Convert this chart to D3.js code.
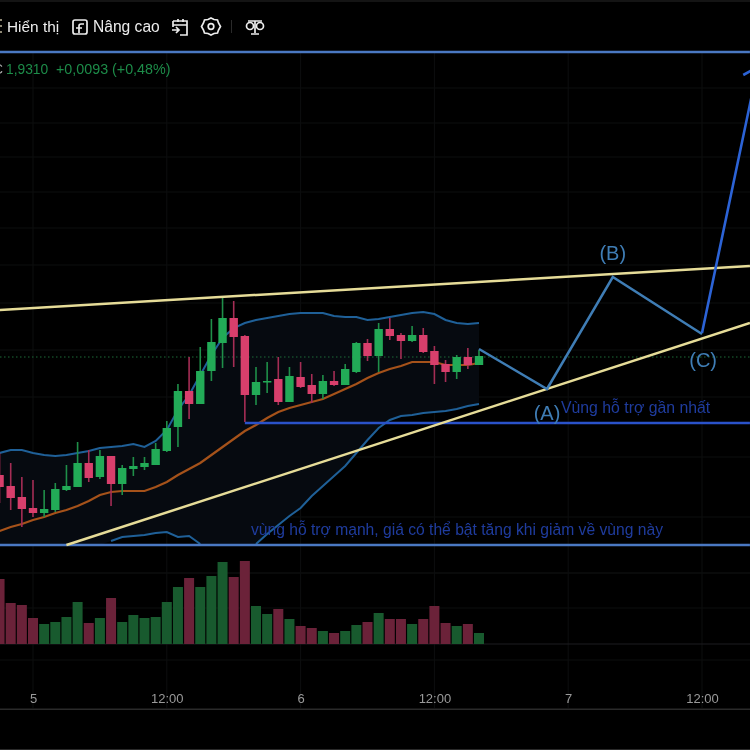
<!DOCTYPE html>
<html>
<head>
<meta charset="utf-8">
<script src="https://cdnjs.cloudflare.com/ajax/libs/d3/7.8.5/d3.min.js"></script>
<style>
html,body{margin:0;padding:0;background:#000;overflow:hidden}
svg{display:block;filter:blur(0.55px)}
text{font-family:"Liberation Sans",Arial,sans-serif}
</style>
</head>
<body>
<script>
// hours counted from the start of day 5, first candle is at -3
var firstHour = -3;
var opens = [1.813,1.802,1.791,1.780,1.775,1.778,1.798,1.801,1.825,1.811,1.832,1.804,1.819,1.821,1.823,1.837,1.861,1.897,1.884,1.917,1.945,1.970,1.952,1.893,1.906,1.909,1.886,1.911,1.903,1.894,1.907,1.903,1.916,1.945,1.932,1.959,1.953,1.947,1.953,1.937,1.924,1.916,1.931,1.923];
var highs = [1.835,1.825,1.811,1.808,1.798,1.805,1.823,1.846,1.838,1.838,1.832,1.823,1.831,1.831,1.845,1.867,1.904,1.931,1.941,1.969,1.990,1.987,1.953,1.921,1.926,1.931,1.921,1.926,1.914,1.913,1.917,1.924,1.946,1.949,1.965,1.970,1.955,1.962,1.960,1.942,1.928,1.933,1.940,1.938];
var lows = [1.785,1.778,1.761,1.771,1.771,1.776,1.797,1.801,1.806,1.809,1.782,1.793,1.812,1.818,1.823,1.836,1.841,1.869,1.884,1.907,1.920,1.921,1.866,1.883,1.895,1.883,1.886,1.900,1.885,1.889,1.902,1.903,1.915,1.927,1.916,1.948,1.929,1.946,1.935,1.904,1.906,1.909,1.919,1.923];
var closes = [1.801,1.790,1.779,1.775,1.779,1.799,1.802,1.825,1.810,1.832,1.804,1.820,1.822,1.825,1.839,1.860,1.897,1.884,1.917,1.946,1.970,1.951,1.893,1.906,1.907,1.886,1.912,1.901,1.894,1.907,1.903,1.919,1.945,1.932,1.959,1.952,1.947,1.953,1.936,1.923,1.916,1.931,1.923,1.932];
var volumes = [650,410,390,260,200,220,270,420,210,260,460,220,290,260,270,420,570,660,570,680,820,670,830,380,300,350,250,180,160,130,110,130,190,220,310,250,250,200,250,380,210,180,200,110];

var upperBand = [1.835,1.838,1.838,1.835,1.833,1.832,1.833,1.835,1.837,1.840,1.841,1.842,1.844,1.841,1.847,1.858,1.878,1.893,1.913,1.933,1.950,1.960,1.965,1.968,1.970,1.972,1.974,1.975,1.975,1.975,1.972,1.971,1.971,1.968,1.969,1.971,1.973,1.975,1.976,1.974,1.968,1.965,1.964,1.965];
var middleBand = [1.757,1.761,1.764,1.768,1.771,1.775,1.778,1.782,1.787,1.793,1.796,1.797,1.797,1.797,1.801,1.806,1.813,1.819,1.825,1.833,1.841,1.849,1.857,1.863,1.870,1.876,1.880,1.883,1.886,1.889,1.894,1.899,1.904,1.910,1.915,1.919,1.922,1.926,1.926,1.926,1.923,1.923,1.923,1.925];
// null where the band is below the bottom of the price pane
var lowerBand = [null,null,null,null,null,null,null,null,null,null,1.747,1.751,1.752,1.753,1.755,1.756,1.751,1.752,1.744,null,null,null,null,1.744,1.754,1.763,1.772,1.780,1.792,1.802,1.812,1.822,1.835,1.848,1.860,1.868,1.872,1.873,1.875,1.876,1.877,1.879,1.882,1.884];

var gridPrices = [2.200,2.165,2.131,2.096,2.060,2.023,1.985,1.938,1.891,1.831,1.771,1.715];
var gridVolumes = [710,360];
var timeTicks = [0,12,24,36,48,60];
var timeLabels = ['5','12:00','6','12:00','7','12:00'];

var lastPrice = 1.931;
var rightHour = 64.3;
var paneTop = 2.236;
var paneBottom = 1.743;
var supportPrice = 1.865;
var upperTrendHours = [-3,rightHour];
var upperTrendPrices = [1.978,2.022];
var lowerTrendHours = [3,rightHour];
var lowerTrendPrices = [1.743,1.965];
var waveHours = [40,46.1,52,60];
var wavePrices = [1.939,1.899,2.011,1.954];
var targetHours = [60,65,63.7];
var targetPrices = [1.955,2.221,2.213];
var waveLabels = ['(A)','(B)','(C)'];
var waveLabelHours = [46.1,52,60.1];
var waveLabelPrices = [1.873,2.033,1.926];
var nearSupportText = 'Vùng hỗ trợ gần nhất';
var strongSupportText = 'vùng hỗ trợ mạnh, giá có thể bật tăng khi giảm về vùng này';

var svgWidth = 750;
var svgHeight = 750;
var green = '#22ab57';
var red = '#d83f6c';

var svg = d3.select('body').append('svg')
	.attr('width',svgWidth)
	.attr('height',svgHeight)
	.style('background','#000')

var x = d3.scaleLinear().domain([0,60]).range([33,702]);
var y = d3.scaleLinear().domain([2.288,1.538]).range([0,750]);
var yVol = d3.scaleLinear().domain([0,1000]).range([644,544]);

var hours = opens.map(function(d,i){return firstHour+i});
var isUp = function(i){return closes[i]>=opens[i]};

// frame lines
svg.append('rect').attr('x',0).attr('y',0).attr('width',750).attr('height',2).attr('fill','#141414');
svg.append('rect').attr('x',0).attr('y',708.5).attr('width',750).attr('height',1.5).attr('fill','#2a2a2a');
svg.append('rect').attr('x',0).attr('y',749).attr('width',750).attr('height',1).attr('fill','#2a2a2a');

// grid
var gridColor = '#0d0e0f';
svg.selectAll('.gridY').data(gridPrices).enter().append('line')
	.attr('x1',0).attr('x2',750)
	.attr('y1',function(d){return y(d)}).attr('y2',function(d){return y(d)})
	.attr('stroke',gridColor);
svg.selectAll('.gridV').data(gridVolumes).enter().append('line')
	.attr('x1',0).attr('x2',750)
	.attr('y1',function(d){return yVol(d)}).attr('y2',function(d){return yVol(d)})
	.attr('stroke',gridColor);
svg.selectAll('.gridX').data(timeTicks).enter().append('line')
	.attr('x1',function(d){return x(d)}).attr('x2',function(d){return x(d)})
	.attr('y1',52).attr('y2',708)
	.attr('stroke',gridColor);
svg.append('line').attr('x1',0).attr('x2',750).attr('y1',644).attr('y2',644).attr('stroke','#1c1c20');
svg.append('line').attr('x1',0).attr('x2',750).attr('y1',660).attr('y2',660).attr('stroke',gridColor);

// band fill and lines
var bandArea = d3.area()
	.x(function(d){return x(hours[d])})
	.y0(function(d){return y(lowerBand[d]===null?paneBottom:lowerBand[d])})
	.y1(function(d){return y(upperBand[d])});
svg.append('path').attr('d',bandArea(d3.range(hours.length))).attr('fill','#060a10');

var bandLine = function(values){
	return d3.line()
		.defined(function(d){return values[d]!==null})
		.x(function(d){return x(hours[d])})
		.y(function(d){return y(values[d])})(d3.range(hours.length));
}
svg.append('path').attr('d',bandLine(upperBand)).attr('fill','none').attr('stroke','#1f6098').attr('stroke-width',2);
svg.append('path').attr('d',bandLine(lowerBand)).attr('fill','none').attr('stroke','#1f6098').attr('stroke-width',2);
svg.append('path').attr('d',bandLine(middleBand)).attr('fill','none').attr('stroke','#a5521a').attr('stroke-width',2.2);

// last price
svg.append('line')
	.attr('x1',0).attr('x2',750)
	.attr('y1',y(lastPrice)).attr('y2',y(lastPrice))
	.attr('stroke','#1d6b38').attr('stroke-width',1.2).attr('stroke-dasharray','1.5 2.5');

// volume
svg.selectAll('.vol').data(volumes).enter().append('rect')
	.attr('x',function(d,i){return x(hours[i])-5})
	.attr('y',function(d){return yVol(d)})
	.attr('width',10)
	.attr('height',function(d){return yVol(0)-yVol(d)})
	.attr('fill',function(d,i){return isUp(i)?'#185a2e':'#6b2239'});

// candles
svg.selectAll('.wick').data(hours).enter().append('line')
	.attr('x1',function(d){return x(d)}).attr('x2',function(d){return x(d)})
	.attr('y1',function(d,i){return y(highs[i])})
	.attr('y2',function(d,i){return y(lows[i])})
	.attr('stroke',function(d,i){return isUp(i)?'#1f8f49':'#a52d55'})
	.attr('stroke-width',1.6);
svg.selectAll('.body').data(hours).enter().append('rect')
	.attr('x',function(d){return x(d)-4.2})
	.attr('y',function(d,i){return y(Math.max(opens[i],closes[i]))})
	.attr('width',8.4)
	.attr('height',function(d,i){return Math.max(y(Math.min(opens[i],closes[i]))-y(Math.max(opens[i],closes[i])),1.5)})
	.attr('fill',function(d,i){return isUp(i)?green:red});

// hand drawn lines on the chart
var drawn = function(hs,ps,color,width){
	svg.append('path')
		.attr('d',d3.line()(hs.map(function(h,i){return [x(h),y(ps[i])]})))
		.attr('fill','none')
		.attr('stroke',color)
		.attr('stroke-width',width);
}
drawn([-3,rightHour],[paneTop,paneTop],'#4a78c2',2.6);
drawn([-3,rightHour],[paneBottom,paneBottom],'#4a78c2',2.6);
drawn([19,rightHour],[supportPrice,supportPrice],'#2a52c9',2.6);
drawn(upperTrendHours,upperTrendPrices,'#e6dc98',2.5);
drawn(lowerTrendHours,lowerTrendPrices,'#e6dc98',2.5);
drawn(waveHours,wavePrices,'#3f7db5',2.5);
drawn(targetHours,targetPrices,'#2c63d6',2.6);

svg.selectAll('.wave').data(waveLabels).enter().append('text')
	.text(function(d){return d})
	.attr('x',function(d,i){return x(waveLabelHours[i])})
	.attr('y',function(d,i){return y(waveLabelPrices[i])})
	.attr('text-anchor','middle')
	.attr('dominant-baseline','middle')
	.style('font-size','20px')
	.attr('fill','#3f7db5');

svg.append('text').text(nearSupportText)
	.attr('x',561).attr('y',413)
	.style('font-size','15.8px')
	.attr('fill','#1f3c9e');
svg.append('text').text(strongSupportText)
	.attr('x',251).attr('y',535)
	.style('font-size','15.65px')
	.attr('fill','#1f3c9e');

// time axis
var axis = d3.axisBottom(x)
	.tickValues(timeTicks)
	.tickFormat(function(d,i){return timeLabels[i]})
	.tickSize(0);
var axisG = svg.append('g').attr('transform','translate(0,691)').call(axis);
axisG.select('.domain').remove();
axisG.selectAll('text')
	.attr('fill','#9a9a9a')
	.style('font-size','13px')
	.style('font-family','"Liberation Sans",Arial,sans-serif');

// toolbar
var toolbarColor = '#ececec';
svg.append('text').text('Hiển thị').attr('x',7).attr('y',32).style('font-size','15.4px').attr('fill',toolbarColor);
svg.append('text').text('Nâng cao').attr('x',93).attr('y',32).style('font-size','15.6px').attr('fill',toolbarColor);
svg.append('path').attr('d','M0 20h2M0 26h2M0 32h2').attr('stroke','#bdb59a').attr('stroke-width',1.5);

var icon = svg.append('g').attr('fill','none').attr('stroke',toolbarColor).attr('stroke-width',1.7);
icon.append('rect').attr('x',73).attr('y',20).attr('width',14).attr('height',14).attr('rx',2);
icon.append('path').attr('d','M84 24h-3q-2 0-2 2v7M76 28h6');
icon.append('path').attr('d','M173 21h14v14h-7M173 21v6M178 19v3M183 19v3M173 25h14M172 30h7M176 27l3 3l-3 3');
icon.append('path').attr('d','M211 18l3 1.5l3.500 0.500l1 3l2 3.500l-2 3.500l-1 3l-3.500 0.500l-3 1.500l-3-1.500l-3.500-0.500l-1-3l-2-3.500l2-3.500l1-3l3.500-0.500z');
icon.append('circle').attr('cx',211).attr('cy',26.5).attr('r',2.8);
icon.append('path').attr('d','M248 21h14M255 21v12M251 34h8');
icon.append('circle').attr('cx',250).attr('cy',26).attr('r',3.5);
icon.append('circle').attr('cx',260).attr('cy',26).attr('r',3.5);
svg.append('line').attr('x1',231.500).attr('x2',231.500).attr('y1',20).attr('y2',33).attr('stroke','#2a2a2a');

// legend
svg.append('text').text('C').attr('x',-7).attr('y',74).style('font-size','13.8px').attr('fill','#b0b0b0');
svg.append('text').text('1,9310').attr('x',6).attr('y',74).style('font-size','13.8px').attr('fill','#1d8c49');
svg.append('text').text('+0,0093 (+0,48%)').attr('x',56).attr('y',74).style('font-size','14.3px').attr('fill','#1d8c49');
</script>
</body>
</html>
